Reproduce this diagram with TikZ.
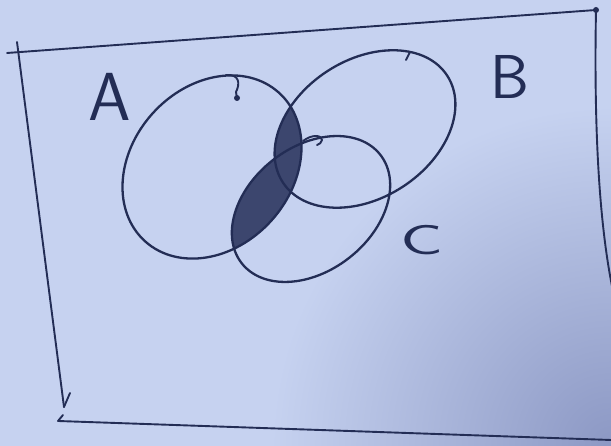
\documentclass[tikz,border=0pt]{standalone}
\definecolor{paper}{RGB}{198,210,240}
\definecolor{paperdark}{RGB}{140,152,196}
\definecolor{ink}{RGB}{35,45,85}
\definecolor{shadeink}{RGB}{60,70,110}
\begin{document}
\begin{tikzpicture}[x=1pt,y=1pt,
  inkline/.style={draw=ink, line width=2.3pt, line cap=round, line join=round},
  thinink/.style={draw=ink, line width=1.9pt, line cap=round, line join=round},
  lbl/.style={text=ink, font=\sffamily, inner sep=0pt}]
\useasboundingbox (0,0) rectangle (611,446);
\fill[paper] (0,0) rectangle (611,446);
\begin{scope}
  \clip (0,0) rectangle (611,446);
  \shade[inner color=paperdark, outer color=paper] (611,0) circle (340pt);
\end{scope}

% shaded region A and (B or C)
\begin{scope}
  \clip (212,279) ellipse [x radius=100pt, y radius=80pt, rotate=48];
  \fill[shadeink] (365,317) ellipse [x radius=98pt, y radius=69pt, rotate=33];
  \fill[shadeink] (311,237) ellipse [x radius=88pt, y radius=62pt, rotate=38];
\end{scope}

% frame
\coordinate (tl) at (7,393);
\coordinate (tr) at (596,436);
\coordinate (lt) at (17,404);
\coordinate (lb) at (64,39);
\coordinate (barb) at (70,53);
\coordinate (bl) at (58,25);
\coordinate (blt) at (63,31);
\coordinate (br) at (611,6);
\coordinate (rb) at (612,160);
\draw[thinink] (tl) -- (tr);
\draw[thinink] (lt) -- (lb);
\draw[thinink] (barb) -- (lb);
\draw[thinink] (blt) -- (bl) -- (br);
\draw[thinink] (tr) .. controls (594,330) and (598,230) .. (rb);
\fill[ink] (tr) circle (3pt);

% sets
\draw[inkline] (212,279) ellipse [x radius=100pt, y radius=80pt, rotate=48];
\draw[inkline] (365,317) ellipse [x radius=98pt, y radius=69pt, rotate=33];
\draw[inkline] (311,237) ellipse [x radius=88pt, y radius=62pt, rotate=38];

% hand-drawn hooks
\coordinate (ha0) at (226,371);
\coordinate (ha1) at (237,348);
\draw[thinink] (ha0) .. controls (240,372) and (240,362) .. (236,354) -- (ha1);
\fill[ink] (ha1) circle (3pt);
\coordinate (hc0) at (303,305);
\coordinate (hc1) at (317,301);
\draw[thinink] (hc0) .. controls (312,312) and (322,311) .. (322,306) .. controls (322,303) and (319,302) .. (hc1);
\coordinate (hb0) at (410,394);
\coordinate (hb1) at (406,386);
\draw[thinink] (hb0) -- (hb1);

% labels
\node[lbl, font=\sffamily\fontsize{68}{68}\selectfont] (labA) at (110,349) {A};
\node[lbl, font=\sffamily\fontsize{62}{62}\selectfont] (labB) at (510,369) {B};
\node[lbl, font=\sffamily\fontsize{42}{42}\selectfont, xscale=1.7] (labC) at (422,206) {C};
\end{tikzpicture}
\end{document}
